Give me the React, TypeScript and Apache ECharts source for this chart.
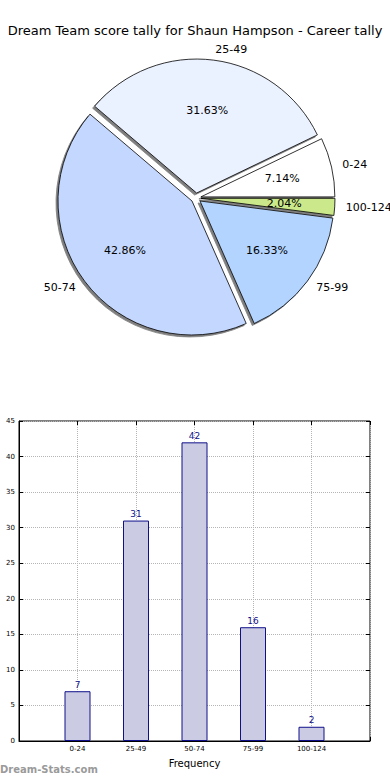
import React, { useEffect, useRef } from 'react';
import * as echarts from 'echarts';

const chartTitle = 'Dream Team score tally for Shaun Hampson - Career tally';
const categories = ['0-24', '25-49', '50-74', '75-99', '100-124'];
const counts = [7, 31, 42, 16, 2];
const sliceColors = ['#ffffff', '#eaf1ff', '#c4d8ff', '#b3d4ff', '#cbe98b'];
const yMin = 0;
const yMax = 45;
const yStep = 5;
const xAxisName = 'Frequency';
const watermark = 'Dream-Stats.com';

const FONT = 'DejaVu Sans';

export default function App() {
  const ref = useRef<HTMLDivElement>(null);
  useEffect(() => {
    const chart = echarts.init(ref.current!, null, { renderer: 'svg' });
    const pieData = categories.map((c, i) => ({
      name: c,
      value: counts[i],
      selected: true,
      itemStyle: { color: sliceColors[i] },
    }));
    const pctData = categories.map((c, i) => ({
      name: c,
      value: counts[i],
      selected: true,
    }));
    const barData = counts.map((v, i) => [i, v]);
    const dotted = { show: true, lineStyle: { color: '#b5b5b5', type: 'dotted', width: 1 } };
    const tick = { show: true, inside: true, length: 4, lineStyle: { color: '#000' } };
    chart.setOption({
      animation: false,
      backgroundColor: '#ffffff',
      textStyle: { fontFamily: FONT },
      title: {
        text: chartTitle,
        left: 'center',
        top: 19,
        textStyle: { fontSize: 13, fontWeight: 'normal', color: '#000', fontFamily: FONT },
      },
      graphic: [
        {
          type: 'text',
          left: 0,
          top: 764,
          style: {
            text: watermark,
            fill: '#9a9a9a',
            font: `bold 10px "${FONT}"`,
          },
        },
      ],
      grid: {
        left: 19,
        right: 20,
        top: 421,
        bottom: 39,
        show: true,
        borderColor: '#000',
        borderWidth: 1,
        backgroundColor: 'transparent',
      },
      xAxis: [
        {
          type: 'value',
          min: -1,
          max: 5,
          interval: 1,
          name: xAxisName,
          nameLocation: 'middle',
          nameGap: 17,
          nameTextStyle: { fontSize: 10, color: '#000', fontFamily: FONT },
          axisLine: { show: true, onZero: false, lineStyle: { color: '#000' } },
          axisTick: tick,
          axisLabel: {
            fontSize: 7,
            color: '#000',
            margin: 4,
            fontFamily: FONT,
            formatter: (v: number) => categories[v] ?? '',
          },
          splitLine: dotted,
        },
        {
          type: 'value',
          position: 'top',
          min: -1,
          max: 5,
          interval: 1,
          axisLine: { show: false, onZero: false },
          axisTick: tick,
          axisLabel: { show: false },
          splitLine: { show: false },
        },
      ],
      yAxis: [
        {
          type: 'value',
          min: yMin,
          max: yMax,
          interval: yStep,
          axisLine: { show: true, onZero: false, lineStyle: { color: '#000' } },
          axisTick: tick,
          axisLabel: { fontSize: 7, color: '#000', margin: 4, fontFamily: FONT },
          splitLine: dotted,
        },
        {
          type: 'value',
          position: 'right',
          min: yMin,
          max: yMax,
          interval: yStep,
          axisLine: { show: false, onZero: false },
          axisTick: tick,
          axisLabel: { show: false },
          splitLine: { show: false },
        },
      ],
      series: [
        {
          type: 'pie',
          center: [196, 198],
          radius: [0, 134],
          startAngle: 0,
          clockwise: false,
          selectedMode: 'multiple',
          selectedOffset: 5,
          avoidLabelOverlap: false,
          emphasis: { disabled: true },
          itemStyle: {
            borderColor: '#000',
            borderWidth: 0.8,
            shadowColor: 'rgba(0,0,0,0.5)',
            shadowBlur: 1,
            shadowOffsetX: -2,
            shadowOffsetY: 2,
          },
          label: {
            show: true,
            position: 'outside',
            formatter: '{b}',
            fontSize: 11,
            color: '#000',
            fontFamily: FONT,
            distanceToLabelLine: 0,
          },
          labelLine: { show: false, length: 11, length2: 0 },
          data: pieData,
        },
        {
          type: 'pie',
          center: [196, 198],
          radius: [0, 161],
          startAngle: 0,
          clockwise: false,
          selectedMode: 'multiple',
          selectedOffset: 5,
          silent: true,
          avoidLabelOverlap: false,
          emphasis: { disabled: true },
          itemStyle: { color: 'rgba(0,0,0,0)', borderWidth: 0 },
          label: {
            show: true,
            position: 'inside',
            formatter: '{d}%',
            fontSize: 11,
            color: '#000',
            fontFamily: FONT,
          },
          labelLine: { show: false },
          data: pctData,
        },
        {
          type: 'bar',
          barWidth: 26,
          itemStyle: { color: '#cbcbe4', borderColor: '#10108a', borderWidth: 1 },
          label: {
            show: true,
            position: 'top',
            distance: 2,
            color: '#10108a',
            fontSize: 9,
            fontFamily: FONT,
          },
          data: barData,
        },
      ],
    });
    return () => chart.dispose();
  }, []);
  return (
    <div
      ref={ref}
      style={{ position: 'absolute', left: 0, top: 0, width: 390, height: 780 }}
    />
  );
}
